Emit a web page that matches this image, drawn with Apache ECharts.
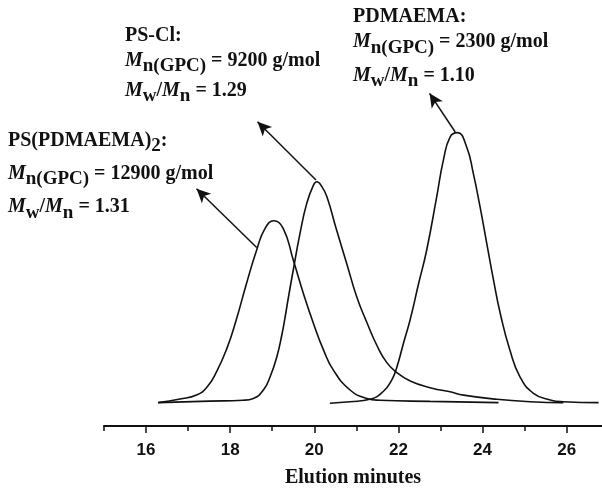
<!DOCTYPE html>
<html>
<head>
<meta charset="utf-8">
<script src="https://cdn.jsdelivr.net/npm/echarts@6/dist/echarts.min.js"></script>
<style>
html,body{margin:0;padding:0;background:#fff;}
#chart{width:602px;height:488px;}
</style>
</head>
<body>
<div id="chart"></div>
<script>
// Tick labels (elution minutes)
const xTicks = [16, 18, 20, 22, 24, 26];
const xMinorTicks = [15, 17, 19, 21, 23, 25];

// GPC traces: [elution minutes, detector response]
const psPdmaema2 = [[16.29,-0.2],[16.81,1.0],[17.2,2.3],[17.44,4.8],[17.68,10.2],[17.92,17.8],[18.14,27.2],[18.39,39.6],[18.63,50.7],[18.83,57.9],[19.04,60.4],[19.26,57.9],[19.5,47.3],[19.74,36.2],[19.98,26.2],[20.22,17.3],[20.45,10.7],[20.85,4],[21.25,1.2],[21.56,0.6],[22.75,0.2],[24.38,-0.2]];
const psCl = [[16.29,-0.2],[17.5,0.3],[18.3,0.6],[18.55,1.2],[18.79,4],[18.95,8.4],[19.11,15.1],[19.23,22.5],[19.3,27.8],[19.38,34.5],[19.5,44],[19.66,56.2],[19.82,66.2],[19.98,72.3],[20.06,73.4],[20.18,71.8],[20.3,68.4],[20.53,57.3],[20.77,46.2],[21.01,35],[21.25,26.5],[21.5,18.5],[21.72,13.2],[21.92,10.3],[22.28,7],[22.8,4.6],[23.23,3.4],[23.55,2.3],[24.34,0.9],[25.13,0.1],[25.92,-0.2]];
const pdmaema = [[20.37,-0.4],[20.85,0.1],[21.32,0.9],[21.64,3.5],[21.84,7.3],[21.96,11.5],[22.12,19.6],[22.28,27.5],[22.48,39.5],[22.67,50.5],[22.91,68.4],[23.07,80.7],[23.23,88.4],[23.4,89.8],[23.62,85.1],[23.78,76.2],[23.94,65.1],[24.1,52.9],[24.26,40.7],[24.42,29.6],[24.65,17.3],[24.89,8.4],[25.21,2.9],[25.61,0.7],[25.92,0.1],[26.76,-0.2]];

// Annotation arrows in data coordinates: [from, to]
const arrowPsCl = [[20.04,74],[18.65,93.4]];
const arrowPdmaema = [[23.35,90],[22.74,102.9]];
const arrowPsPdmaema2 = [[18.63,51.5],[17.2,71.1]];

// Annotation texts (rich text lines)
const labelPsCl = ['{b|PS-Cl:}', '{i|M}{s|n(GPC)}{b| = 9200 g/mol}', '{i|M}{s|w}{b|/}{i|M}{s|n}{b| = 1.29}'];
const labelPdmaema = ['{b|PDMAEMA:}', '{i|M}{s|n(GPC)}{b| = 2300 g/mol}', '{i|M}{s|w}{b|/}{i|M}{s|n}{b| = 1.10}'];
const labelPsPdmaema2 = ['{b|PS(PDMAEMA)}{s|2}{b|:}', '{i|M}{s|n(GPC)}{b| = 12900 g/mol}', '{i|M}{s|w}{b|/}{i|M}{s|n}{b| = 1.31}'];

const INK = '#111';
const SERIF = '"Liberation Serif","Times New Roman",serif';
const rich = {
  b: {fontFamily: SERIF, fontWeight: 'bold', fontSize: 20, lineHeight: 20, padding: [0,0,5,0], verticalAlign: 'bottom', fill: INK},
  i: {fontFamily: SERIF, fontWeight: 'bold', fontStyle: 'italic', fontSize: 20, lineHeight: 20, padding: [0,0,5,0], verticalAlign: 'bottom', fill: INK},
  s: {fontFamily: SERIF, fontWeight: 'bold', fontSize: 19, lineHeight: 19, verticalAlign: 'bottom', fill: INK}
};

// layout: left x, baselines
const blocks = [
  {lines: labelPsCl, x: 125, base: [41.7, 66.7, 96.7]},
  {lines: labelPdmaema, x: 353, base: [23.3, 48.3, 81.7]},
  {lines: labelPsPdmaema2, x: 8, base: [146.7, 180, 213.3]}
];
const graphics = [];
blocks.forEach(b => b.lines.forEach((t, k) => {
  graphics.push({type: 'text', x: b.x, y: b.base[k] - 11, silent: true,
    style: {text: t, rich: rich, align: 'left', verticalAlign: 'top', fill: INK}});
}));

function arrow(a) {
  return [{coord: a[0]}, {coord: a[1]}];
}

const lineStyle = {color: INK, width: 1.6};
const markLineBase = {silent: true, symbol: ['none', 'arrow'], symbolSize: [10, 14], label: {show: false}, lineStyle: {color: INK, width: 1.5, type: 'solid'}};
const chart = echarts.init(document.getElementById('chart'), null, {renderer: 'canvas'});
chart.setOption({
  animation: false,
  backgroundColor: '#fff',
  grid: {left: 104, right: 0, top: 12, bottom: 62, containLabel: false, outerBoundsMode: 'none'},
  xAxis: [{
    type: 'value', min: 15, max: 26.84,
    axisLine: {show: true, onZero: false, lineStyle: {color: INK, width: 2}},
    axisTick: {show: true, length: 7, customValues: xTicks, lineStyle: {color: INK, width: 1.5}},
    axisLabel: {show: true, customValues: xTicks, margin: 16, color: INK, fontFamily: '"Liberation Sans",Arial,sans-serif', fontWeight: 'bold', fontSize: 17},
    splitLine: {show: false},
    name: 'Elution minutes', nameLocation: 'middle', nameGap: 42,
    nameTextStyle: {fontFamily: SERIF, fontWeight: 'bold', fontSize: 20, color: INK}
  }, {
    type: 'value', min: 15, max: 26.84, position: 'bottom',
    axisLine: {show: false, onZero: false},
    axisTick: {show: true, length: 5, customValues: xMinorTicks, lineStyle: {color: INK, width: 1.5}},
    axisLabel: {show: false},
    splitLine: {show: false}
  }],
  yAxis: {type: 'value', min: -8, max: 130, show: false, splitLine: {show: false}},
  series: [
    {type: 'line', name: 'PS(PDMAEMA)2', data: psPdmaema2, smooth: 0.5, showSymbol: false, lineStyle: lineStyle, clip: false,
     markLine: Object.assign({data: [arrow(arrowPsPdmaema2)]}, markLineBase)},
    {type: 'line', name: 'PS-Cl', data: psCl, smooth: 0.5, showSymbol: false, lineStyle: lineStyle, clip: false,
     markLine: Object.assign({data: [arrow(arrowPsCl)]}, markLineBase)},
    {type: 'line', name: 'PDMAEMA', data: pdmaema, smooth: 0.5, showSymbol: false, lineStyle: lineStyle, clip: false,
     markLine: Object.assign({data: [arrow(arrowPdmaema)]}, markLineBase)}
  ],
  graphic: graphics
});
</script>
</body>
</html>
